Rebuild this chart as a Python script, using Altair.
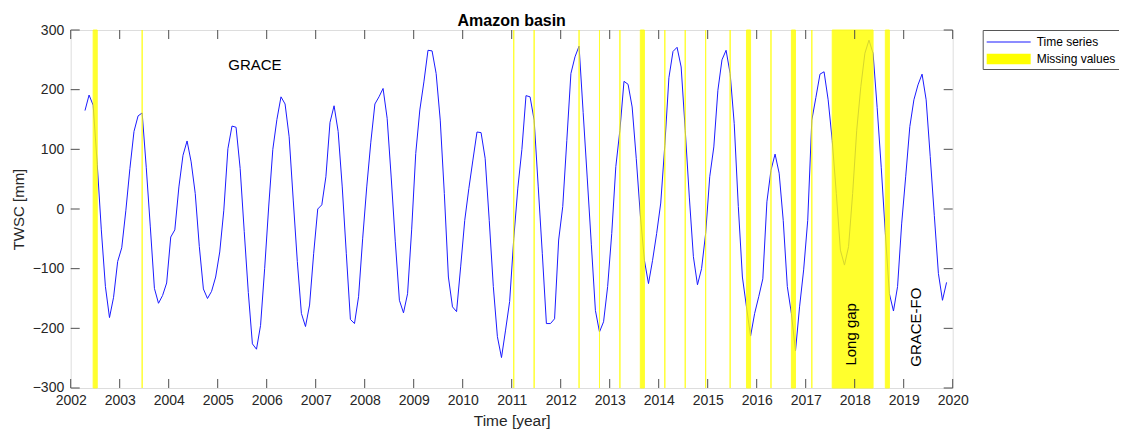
import altair as alt
import pandas as pd

# ---------------- data (monthly TWSC, Apr 2002 .. Nov 2019) ----------------
START_YEAR, START_MONTH = 2002, 4
twsc_2002 = [165, 191, 174, 75, -35, -130, -182, -148, -88]
twsc_2003 = [-65, -3, 68, 130, 156, 161, 70, -30, -133, -158, -145, -124]
twsc_2004 = [-47, -35, 37, 90, 114, 79, 26, -63, -134, -150, -138, -114]
twsc_2005 = [-72, -2, 101, 139, 137, 68, -38, -140, -226, -235, -195, -100]
twsc_2006 = [5, 100, 150, 188, 176, 121, 15, -88, -175, -197, -161, -75]
twsc_2007 = [0, 7, 54, 145, 173, 130, 37, -75, -185, -192, -147, -50]
twsc_2008 = [37, 112, 176, 188, 202, 152, 52, -55, -153, -174, -142, -35]
twsc_2009 = [93, 166, 213, 266, 265, 227, 149, 26, -114, -164, -172, -97]
twsc_2010 = [-19, 34, 82, 129, 128, 85, -19, -130, -214, -249, -203, -155]
twsc_2011 = [-50, 35, 100, 190, 188, 149, 37, -75, -192, -192, -184, -52]
twsc_2012 = [4, 115, 227, 255, 273, 162, 52, -59, -170, -206, -189, -130]
twsc_2013 = [-41, 71, 132, 214, 209, 171, 85, -10, -86, -125, -86, -41]
twsc_2014 = [10, 107, 220, 264, 271, 238, 132, 20, -80, -127, -100, -41]
twsc_2015 = [54, 104, 199, 250, 266, 227, 143, 4, -114, -164, -213, -175]
twsc_2016 = [-147, -117, 12, 65, 92, 60, -19, -130, -175, -238, -164, -102]
twsc_2017 = [-19, 149, 187, 226, 230, 183, 115, 26, -69, -94, -63, 26]
twsc_2018 = [132, 205, 261, 283, 261, 170, 70, -40, -142, -171, -130, -25]
twsc_2019 = [55, 138, 183, 208, 226, 183, 88, -11, -108, -153, -123]

yearly = [twsc_2002, twsc_2003, twsc_2004, twsc_2005, twsc_2006, twsc_2007,
          twsc_2008, twsc_2009, twsc_2010, twsc_2011, twsc_2012, twsc_2013,
          twsc_2014, twsc_2015, twsc_2016, twsc_2017, twsc_2018, twsc_2019]

# missing months (first, last) as "YYYY-MM"
gap_first = ["2002-06", "2003-06", "2011-01", "2011-06", "2012-05", "2012-10",
             "2013-03", "2013-08", "2014-02", "2014-07", "2014-12", "2015-06",
             "2015-10", "2016-04", "2016-09", "2017-02", "2017-07", "2018-08"]
gap_last = ["2002-07", "2003-06", "2011-01", "2011-06", "2012-05", "2012-10",
            "2013-03", "2013-09", "2014-02", "2014-07", "2014-12", "2015-06",
            "2015-11", "2016-04", "2016-10", "2017-02", "2018-05", "2018-09"]

x_ticks = list(range(2002, 2021))
y_ticks = [-300, -200, -100, 0, 100, 200, 300]

note_text = ["GRACE", "Long gap", "GRACE-FO"]
note_t = [2005.76, 2017.92, 2019.25]
note_v = [241, -210, -198]
note_angle = [0, 270, 270]

LEG = ["Time series", "Missing values"]
LEG_COLORS = ["#1a1aff", "#ffff00"]
# legend swatches: a 1px-high bar (line sample) and a filled box
LEG_SHAPES = ["M-2.75,-0.0625H2.75V0.0625H-2.75Z", "M-2.75,-0.65H2.75V0.65H-2.75Z"]

# ---------------- tables ----------------
rows = []
for i, vals in enumerate(yearly):
    year = START_YEAR + i
    m0 = START_MONTH if i == 0 else 1
    for k, v in enumerate(vals):
        m = m0 + k
        rows.append({"t": year + (m - 0.5) / 12.0, "v": v})
ts = pd.DataFrame(rows)


def dec(s):
    y, m = s.split("-")
    return int(y) + (int(m) - 0.5) / 12.0


gaps = pd.DataFrame({"a": [dec(s) for s in gap_first],
                     "b": [dec(s) for s in gap_last]})
notes = pd.DataFrame({"text": note_text, "t": note_t, "v": note_v, "ang": note_angle})
xt = pd.DataFrame({"t": x_ticks})
yt = pd.DataFrame({"v": y_ticks})
legdf = pd.DataFrame({"kind": LEG})

W, H = 882, 358
FONT = "Liberation Sans"
TXT = "#262626"
TICK = 9

xscale = alt.Scale(domain=[2002, 2020], nice=False, zero=False)
yscale = alt.Scale(domain=[-300, 300], nice=False)
cscale = alt.Scale(domain=LEG, range=LEG_COLORS)
sscale = alt.Scale(domain=LEG, range=LEG_SHAPES)

xaxis = alt.Axis(values=x_ticks, format="d", title="Time [year]", grid=False,
                 ticks=False, tickSize=0, domain=False, labelFlush=False,
                 labelOverlap=False, labelFontSize=14, labelFont=FONT,
                 labelColor=TXT, labelPadding=6, titleFont=FONT,
                 titleFontSize=15.5, titleFontWeight="normal", titleColor=TXT,
                 titlePadding=6)
yaxis = alt.Axis(values=y_ticks, title="TWSC [mm]", grid=False, ticks=False,
                 tickSize=0, domain=False, labelFlush=False, labelOverlap=False,
                 labelFontSize=14, labelFont=FONT, labelColor=TXT,
                 labelPadding=7, titleFont=FONT, titleFontSize=15,
                 titleFontWeight="normal", titleColor=TXT, titlePadding=6)

legend = alt.Legend(
    title=None, orient="none", legendX=912, legendY=0,
    fillColor="white", strokeColor="#555555", padding=4,
    labelFont=FONT, labelFontSize=12, labelColor="black",
    symbolSize=256, symbolOffset=14, labelOffset=20, rowPadding=3,
    symbolStrokeWidth=0, symbolOpacity=1)

line = alt.Chart(ts).mark_line(strokeWidth=1, color=LEG_COLORS[0]).encode(
    x=alt.X("t:Q", scale=xscale, axis=xaxis),
    y=alt.Y("v:Q", scale=yscale, axis=yaxis),
)

bars = alt.Chart(gaps).mark_rect(color=LEG_COLORS[1], stroke=LEG_COLORS[1],
                                 strokeWidth=1, opacity=0.82).encode(
    x=alt.X("a:Q", scale=xscale),
    x2="b:Q",
    y=alt.datum(-300, scale=yscale),
    y2=alt.datum(300),
)

# invisible points that only carry the legend (colour + symbol shape)
legpts = alt.Chart(legdf).mark_point(filled=True, opacity=0).encode(
    x=alt.datum(2010, scale=xscale),
    y=alt.datum(0, scale=yscale),
    color=alt.Color("kind:N", scale=cscale, legend=legend),
    shape=alt.Shape("kind:N", scale=sscale, legend=legend),
)

texts = alt.Chart(notes).mark_text(font=FONT, fontSize=15, color="black",
                                   align="center", baseline="middle").encode(
    x=alt.X("t:Q", scale=xscale),
    y=alt.Y("v:Q", scale=yscale),
    text="text:N",
    angle=alt.Angle("ang:Q", scale=None),
)

tick_style = dict(color="#4d4d4d", strokeWidth=1)
xt_bottom = alt.Chart(xt).mark_rule(**tick_style).encode(
    x=alt.X("t:Q", scale=xscale), y=alt.value(H - TICK), y2=alt.value(H))
xt_top = alt.Chart(xt).mark_rule(**tick_style).encode(
    x=alt.X("t:Q", scale=xscale), y=alt.value(0), y2=alt.value(TICK))
yt_left = alt.Chart(yt).mark_rule(**tick_style).encode(
    y=alt.Y("v:Q", scale=yscale), x=alt.value(0), x2=alt.value(TICK))
yt_right = alt.Chart(yt).mark_rule(**tick_style).encode(
    y=alt.Y("v:Q", scale=yscale), x=alt.value(W - TICK), x2=alt.value(W))

chart = alt.layer(line, bars, legpts, texts, xt_bottom, xt_top, yt_left, yt_right).properties(
    width=W, height=H,
    title=alt.TitleParams("Amazon basin", font=FONT, fontSize=16,
                          fontWeight="bold", color="black", anchor="middle",
                          frame="group", offset=3, dy=9),
    autosize=alt.AutoSizeParams(type="none"),
    padding={"left": 62.7, "top": 22, "right": 166, "bottom": 42},
).configure_view(stroke="#4d4d4d", strokeWidth=1).configure(background="white")

chart.save("out.html", embed_options={"renderer": "svg", "actions": False})
